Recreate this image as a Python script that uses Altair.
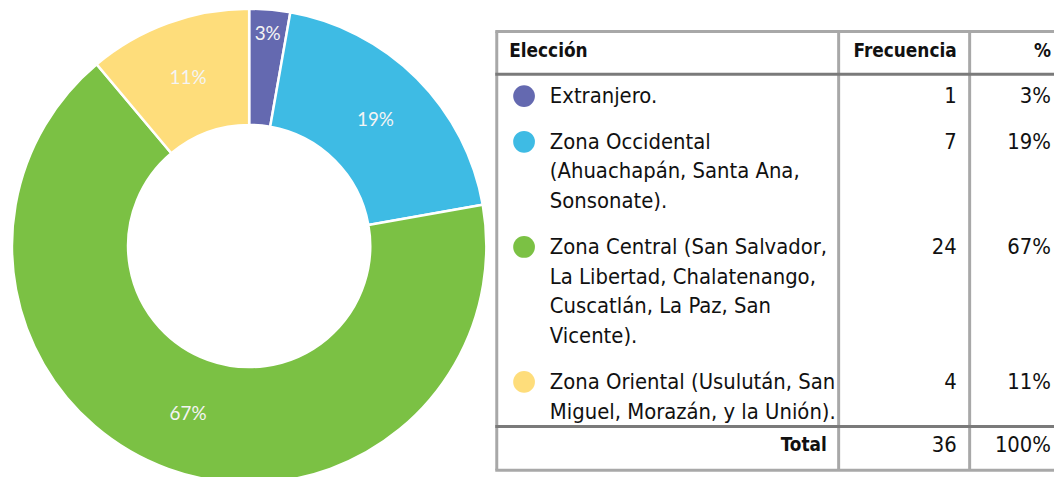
import altair as alt
import pandas as pd

# ---- data ----
categories = ["Extranjero.", "Zona Occidental", "Zona Central", "Zona Oriental"]
label_lines = [
    ["Extranjero."],
    ["Zona Occidental", "(Ahuachapán, Santa Ana,", "Sonsonate)."],
    ["Zona Central (San Salvador,", "La Libertad, Chalatenango,", "Cuscatlán, La Paz, San", "Vicente)."],
    ["Zona Oriental (Usulután, San", "Miguel, Morazán, y la Unión)."],
]
frequencies = [1, 7, 24, 4]
percent_labels = ["3%", "19%", "67%", "11%"]
total_label = ["Total", "36", "100%"]
header_labels = ["Elección", "Frecuencia", "%"]
colors = ["#6469B0", "#3EBBE4", "#7BC144", "#FEDD7B"]

TABLE_FONT = "DejaVu Sans Condensed"
PIE_FONT = "Lato"

# ---- donut ----
pie_df = pd.DataFrame({
    "cat": categories,
    "value": frequencies,
    "pct": percent_labels,
    "idx": list(range(len(categories))),
})

color_scale = alt.Scale(domain=categories, range=colors)
arcs = alt.Chart(pie_df).mark_arc(
    innerRadius=122, outerRadius=239, stroke="white", strokeWidth=2.5
).encode(
    theta=alt.Theta("value:Q", stack=True),
    order=alt.Order("idx:O"),
    x=alt.value(243),
    y=alt.value(238),
    color=alt.Color("cat:N", scale=color_scale, legend=None),
)
labels = alt.Chart(pie_df).transform_window(
    cum="sum(value)", sort=[alt.SortField("idx")]
).transform_calculate(
    mid="datum.cum - datum.value / 2",
    r="datum.value < 2 ? 214 : 180",
).mark_text(font=PIE_FONT, fontSize=19, color="#f4f4f4").encode(
    theta=alt.Theta("mid:Q", stack=False),
    radius=alt.Radius("r:Q", scale=None),
    x=alt.value(243),
    y=alt.value(238),
    text="pct:N",
)

# ---- table (layout in pixels, table origin shifted right of the donut) ----
OX = 491
LEFT, COL1, COL2, RIGHT = 1.5, 346, 478, 570
TOP, HEAD, TOT, BOTTOM = 22, 65, 420, 464
FIRST, LINE_H, GAP = 87, 30, 16
NUM_X, PCT_X, LAB_X = 465, 560, 55

text_rows = []
text_rows.append({"t": header_labels[0], "x": 14, "y": 42, "a": "left", "b": True})
text_rows.append({"t": header_labels[1], "x": NUM_X, "y": 42, "a": "right", "b": True})
text_rows.append({"t": header_labels[2], "x": PCT_X, "y": 42, "a": "right", "b": True})

dot_rows = []
y = FIRST
for i, lines in enumerate(label_lines):
    dot_rows.append({"cat": categories[i], "x": 29, "y": y})
    text_rows.append({"t": str(frequencies[i]), "x": NUM_X, "y": y, "a": "right", "b": False})
    text_rows.append({"t": percent_labels[i], "x": PCT_X, "y": y, "a": "right", "b": False})
    for j, line in enumerate(lines):
        text_rows.append({"t": line, "x": LAB_X, "y": y + j * LINE_H, "a": "left", "b": False})
    y += len(lines) * LINE_H + GAP

text_rows.append({"t": total_label[0], "x": 334, "y": 439, "a": "right", "b": True})
text_rows.append({"t": total_label[1], "x": NUM_X, "y": 439, "a": "right", "b": False})
text_rows.append({"t": total_label[2], "x": PCT_X, "y": 439, "a": "right", "b": False})

tdf = pd.DataFrame(text_rows)
tdf["x"] = tdf["x"] + OX
ddf = pd.DataFrame(dot_rows)
ddf["x"] = ddf["x"] + OX

def txt(df, align, bold):
    return alt.Chart(df).mark_text(
        font=TABLE_FONT, fontSize=19 if bold else 22, align=align, baseline="middle",
        fontWeight="bold" if bold else "normal", color="#111111",
    ).encode(
        x=alt.X("x:Q", scale=None), y=alt.Y("y:Q", scale=None), text="t:N"
    )

text_layers = []
for align in ["left", "right"]:
    for bold in [True, False]:
        sub = tdf[(tdf.a == align) & (tdf.b == bold)]
        if len(sub):
            text_layers.append(txt(sub, align, bold))

dots = alt.Chart(ddf).mark_circle(size=480, opacity=1).encode(
    x=alt.X("x:Q", scale=None), y=alt.Y("y:Q", scale=None),
    color=alt.Color("cat:N", scale=color_scale, legend=None),
)

vlines = pd.DataFrame({"x": [OX + LEFT, OX + COL1, OX + COL2], "y": [TOP] * 3, "y2": [BOTTOM] * 3})
hlines_light = pd.DataFrame({"y": [TOP, BOTTOM], "x": [OX, OX], "x2": [OX + RIGHT, OX + RIGHT]})
hlines_dark = pd.DataFrame({"y": [HEAD, TOT], "x": [OX, OX], "x2": [OX + RIGHT, OX + RIGHT]})

vr = alt.Chart(vlines).mark_rule(color="#a8a8a8", strokeWidth=3).encode(
    x=alt.X("x:Q", scale=None), y=alt.Y("y:Q", scale=None), y2="y2:Q")
hr1 = alt.Chart(hlines_light).mark_rule(color="#a8a8a8", strokeWidth=3).encode(
    x=alt.X("x:Q", scale=None), x2="x2:Q", y=alt.Y("y:Q", scale=None))
hr2 = alt.Chart(hlines_dark).mark_rule(color="#7a7a7a", strokeWidth=3).encode(
    x=alt.X("x:Q", scale=None), x2="x2:Q", y=alt.Y("y:Q", scale=None))

chart = alt.layer(arcs, labels, vr, hr1, hr2, dots, *text_layers).properties(
    width=1054, height=469, padding=0, autosize=alt.AutoSizeParams(type="none")
).configure_view(stroke=None)

chart.save("out.html", embed_options={"renderer": "svg", "actions": False})
